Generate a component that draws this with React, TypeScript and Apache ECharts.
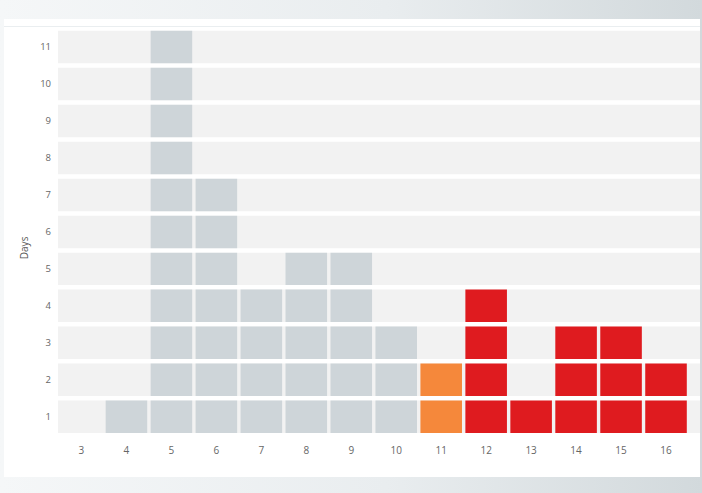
import React, { useEffect, useRef } from "react";
import * as echarts from "echarts";

const days = ["3", "4", "5", "6", "7", "8", "9", "10", "11", "12", "13", "14", "15", "16"];
const levels = ["1", "2", "3", "4", "5", "6", "7", "8", "9", "10", "11"];
const counts = [0, 1, 11, 7, 4, 5, 5, 3, 2, 4, 1, 3, 3, 2];
// 0 = grey, 1 = orange, 2 = red
const status = [0, 0, 0, 0, 0, 0, 0, 0, 1, 2, 2, 2, 2, 2];
const palette = ["#ced5d9", "#f5883b", "#df1b1f"];

export default function App() {
  const ref = useRef<HTMLDivElement>(null);
  useEffect(() => {
    if (!ref.current) return;
    const chart = echarts.init(ref.current, undefined, { renderer: "svg" });
    const cells: number[][] = [];
    counts.forEach((n, xi) => {
      for (let k = 0; k < n; k++) cells.push([xi, k, status[xi]]);
    });
    const rows = levels.map((_, yi) => [0, yi]);
    chart.setOption({
      animation: false,
      backgroundColor: "transparent",
      textStyle: { fontFamily: "Open Sans" },
      graphic: [
        { type: "rect", z: -10, shape: { x: 4, y: 19, width: 696, height: 458 }, style: { fill: "#ffffff" } },
        { type: "line", z: -9, shape: { x1: 4, y1: 26.5, x2: 700, y2: 26.5 }, style: { stroke: "#eaeef0", lineWidth: 1 } },
      ],
      grid: { left: 59, right: 13.5, top: 28.5, bottom: 57.7 },
      xAxis: {
        type: "category",
        data: days,
        axisLine: { show: false },
        axisTick: { show: false },
        splitLine: { show: false },
        axisLabel: { color: "#666", fontSize: 10, margin: 10, fontFamily: "Open Sans" },
      },
      yAxis: {
        type: "category",
        data: levels,
        name: "Days",
        nameLocation: "middle",
        nameGap: 29,
        nameRotate: 90,
        nameTextStyle: { color: "#555", fontSize: 10, fontFamily: "Open Sans", padding: [0, 32, 0, 0] },
        axisLine: { show: false },
        axisTick: { show: false },
        splitLine: { show: false },
        axisLabel: { color: "#666", fontSize: 9.5, margin: 8, fontFamily: "Open Sans" },
      },
      series: [
        {
          type: "custom",
          z: 1,
          silent: true,
          data: rows,
          renderItem: (params: any, api: any) => {
            const cs = params.coordSys;
            const c = api.coord([api.value(0), api.value(1)]);
            const s = api.size([1, 1]);
            const h = s[1] - 4.5;
            return {
              type: "rect",
              shape: { x: cs.x - 1, y: c[1] - h / 2, width: cs.width + 12.5, height: h },
              style: { fill: "#f2f2f2" },
            };
          },
        },
        {
          type: "custom",
          z: 2,
          data: cells,
          renderItem: (params: any, api: any) => {
            const c = api.coord([api.value(0), api.value(1)]);
            const s = api.size([1, 1]);
            const w = s[0] - 3.4;
            const h = s[1] - 4.5;
            return {
              type: "rect",
              shape: { x: c[0] - w / 2, y: c[1] - h / 2, width: w, height: h },
              style: { fill: palette[api.value(2)] },
            };
          },
        },
      ],
    });
    return () => chart.dispose();
  }, []);
  return (
    <div
      style={{
        position: "absolute",
        left: 0,
        top: 0,
        width: 702,
        height: 493,
        background: "linear-gradient(to right, #f5f7f8 0%, #e9edef 55%, #d2d9dc 100%)",
      }}
    >
      <div ref={ref} style={{ width: 702, height: 493 }} />
    </div>
  );
}
